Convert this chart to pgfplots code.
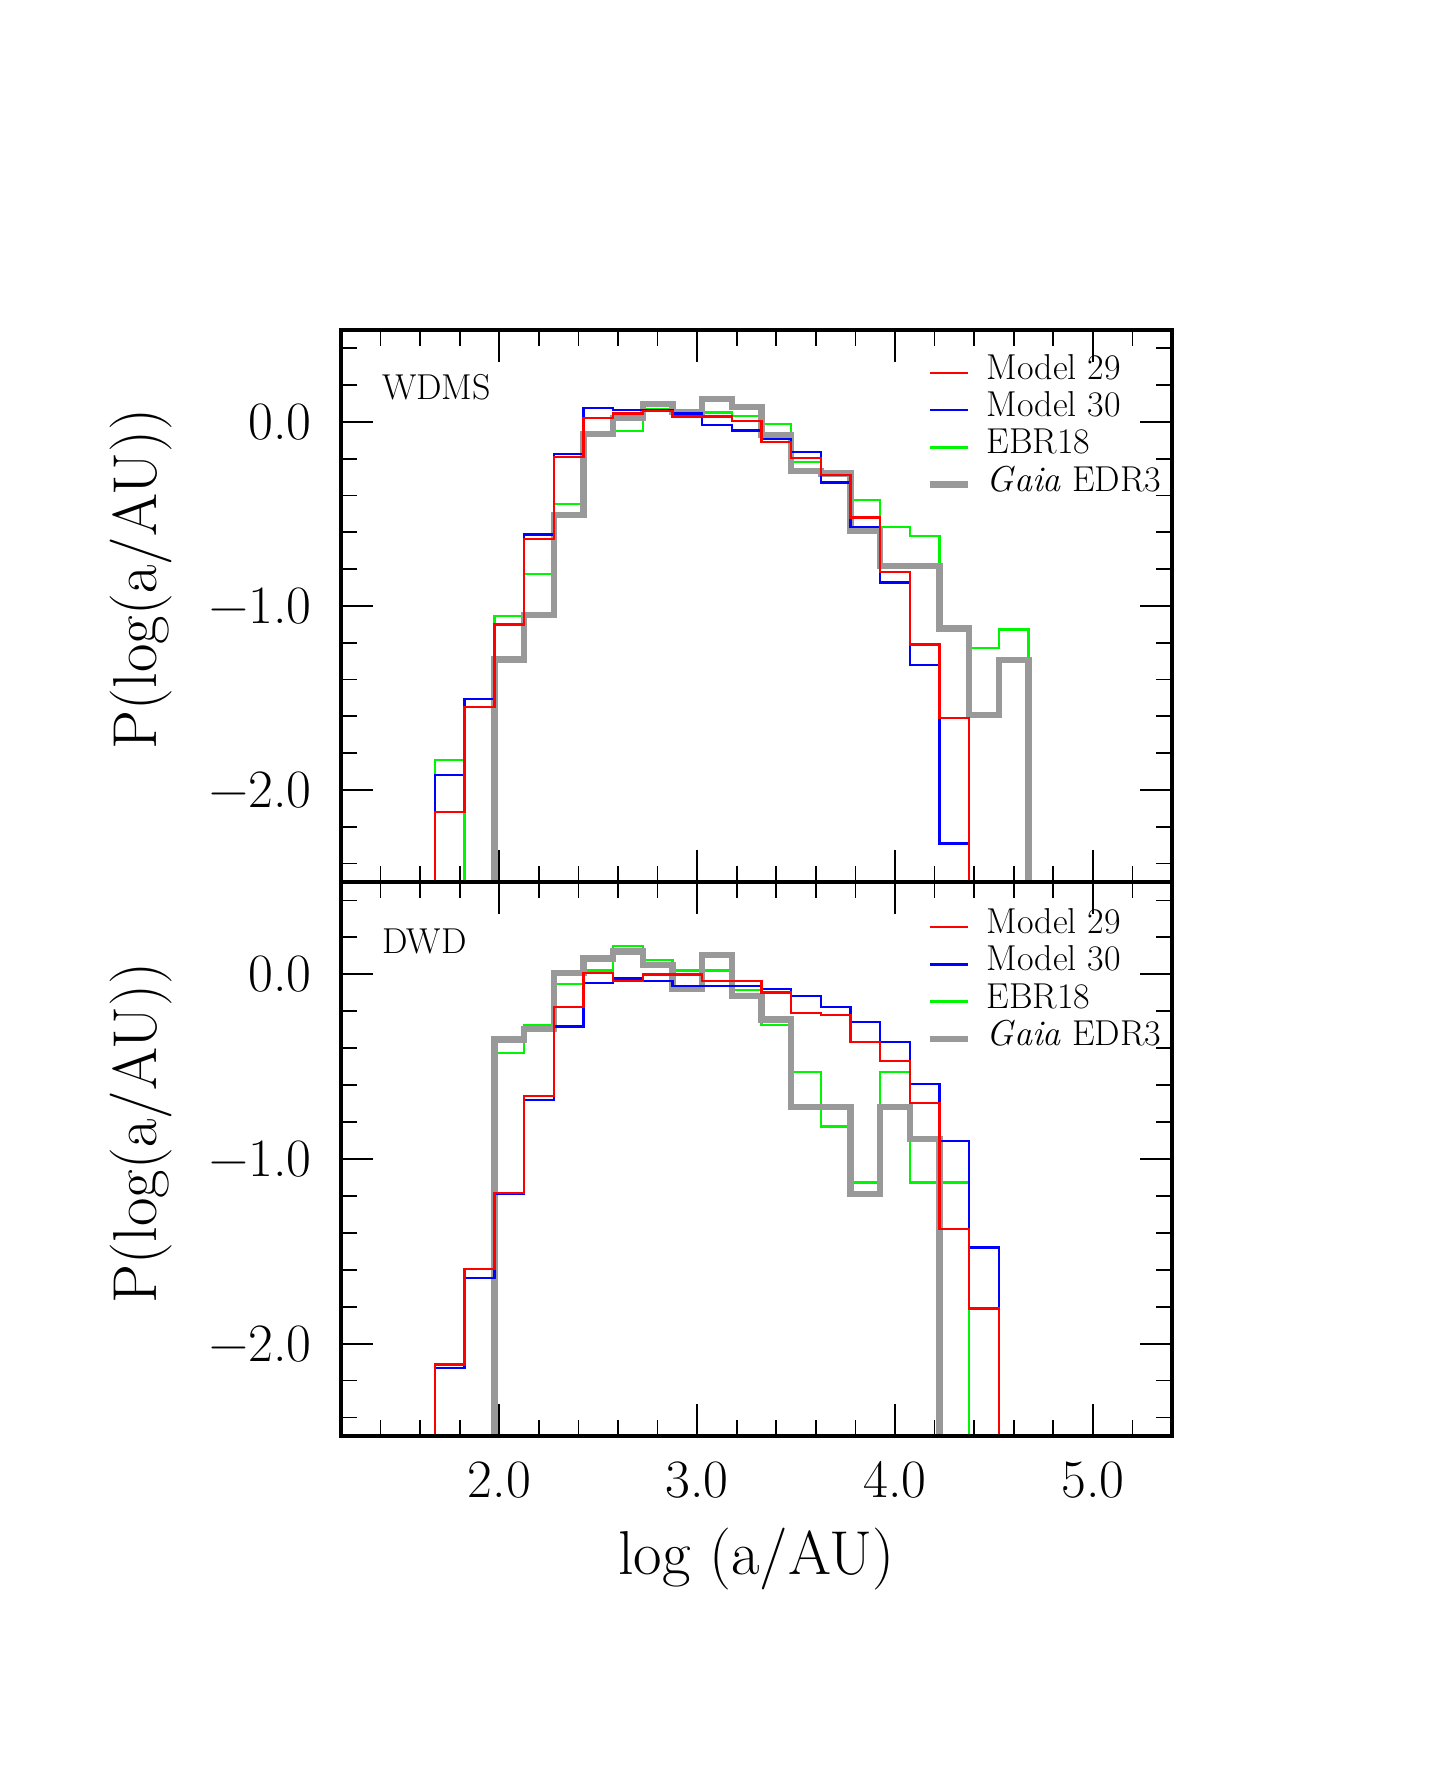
\documentclass[border=0pt]{standalone}
\usepackage{fontspec}
\usepackage{pgfplots}
\pgfplotsset{compat=1.18}
\definecolor{gaiagray}{RGB}{153,153,153}
\definecolor{mgreen}{RGB}{0,245,0}
\definecolor{mred}{RGB}{255,0,0}
\definecolor{mblue}{RGB}{0,0,255}
\pgfplotsset{
  panel/.style={
    scale only axis, width=415.5pt,
    xmin=1.2, xmax=5.4, ymin=-2.5, ymax=0.5,
    xtick={1,2,3,4,5,6}, ytick={-3,-2,-1,0,1},
    yticklabels={,−2.0,−1.0,0.0,},
    minor x tick num=4, minor y tick num=4,
    tick align=inside, major tick length=16pt, minor tick length=8pt,
    axis line style={line width=1.8pt},
    every tick/.style={black, line width=0.9pt},
    axis on top,
    tick label style={font=\fontsize{27}{27}\selectfont},
    yticklabel style={inner sep=0pt, xshift=-14.5pt},
    xticklabel style={inner sep=0pt, yshift=-12.5pt},
    ylabel={P(log(a/AU))},
    ylabel style={font=\fontsize{31}{31}\selectfont, inner sep=0pt, anchor=center},
    legend cell align=left,
    legend image code/.code={\draw[##1] (0pt,0pt) -- (19pt,0pt);},
    legend style={draw=none, fill=none, inner sep=0pt, anchor=north west,
      font=\fontsize{18}{18}\selectfont, column sep=8pt,
      nodes={inner sep=0pt, text height=12.5pt, text depth=6.15pt}},
  },
  hist/.style={const plot, line width=1.2pt, line join=miter, forget plot},
  gaiahist/.style={const plot, line width=3.2pt, line join=miter, forget plot, gaiagray},
}
\begin{document}
\begin{tikzpicture}
\path[use as bounding box] (0pt,0pt) rectangle (717.5pt,885pt);
% ---------------- top panel: WDMS ----------------
\begin{axis}[panel, at={(170.5pt,444pt)}, anchor=south west, height=276pt,
  xticklabels={},
  ylabel style={at={(axis description cs:-0.2407,0.549)}},
  legend style={at={(axis description cs:0.704,0.957)}}]
\addplot[hist, mgreen] coordinates {(1.675,-3) (1.675,-1.838) (1.825,-3) (1.975,-1.055) (2.125,-0.827) (2.275,-0.446) (2.425,-0.07) (2.575,-0.048) (2.725,0.07) (2.875,0.035) (3.025,0.052) (3.175,0.034) (3.325,-0.01) (3.475,-0.216) (3.625,-0.28) (3.775,-0.424) (3.925,-0.57) (4.075,-0.62) (4.225,-1.11) (4.375,-1.227) (4.525,-1.128) (4.675,-3)};
\addplot[gaiahist] coordinates {(1.975,-3) (1.975,-1.29) (2.125,-1.05) (2.275,-0.506) (2.425,-0.066) (2.575,0.023) (2.725,0.098) (2.875,0.053) (3.025,0.125) (3.175,0.082) (3.325,-0.07) (3.475,-0.265) (3.625,-0.28) (3.775,-0.59) (3.925,-0.783) (4.075,-0.783) (4.225,-1.122) (4.375,-1.594) (4.525,-1.294) (4.675,-3)};
\addplot[hist, mblue] coordinates {(1.675,-3) (1.675,-1.92) (1.825,-1.507) (1.975,-1.10) (2.125,-0.611) (2.275,-0.174) (2.425,0.077) (2.575,0.065) (2.725,0.065) (2.875,0.045) (3.025,-0.015) (3.175,-0.047) (3.325,-0.093) (3.475,-0.163) (3.625,-0.33) (3.775,-0.57) (3.925,-0.872) (4.075,-1.322) (4.225,-2.29) (4.375,-3)};
\addplot[hist, mred] coordinates {(1.675,-3) (1.675,-2.12) (1.825,-1.55) (1.975,-1.10) (2.125,-0.637) (2.275,-0.19) (2.425,0.02) (2.575,0.045) (2.725,0.06) (2.875,0.03) (3.025,0.03) (3.175,0.005) (3.325,-0.11) (3.475,-0.195) (3.625,-0.288) (3.775,-0.52) (3.925,-0.814) (4.075,-1.209) (4.225,-1.608) (4.375,-3)};
\addlegendimage{mred, line width=1.2pt}
\addlegendentry{Model 29}
\addlegendimage{mblue, line width=1.2pt}
\addlegendentry{Model 30}
\addlegendimage{mgreen, line width=1.2pt}
\addlegendentry{EBR18}
\addlegendimage{gaiagray, line width=3.2pt}
\addlegendentry{\textit{Gaia} EDR3}
\node[anchor=west, inner sep=0pt, font=\fontsize{18}{18}\selectfont] at (axis description cs:0.049,0.897) {WDMS};
\end{axis}
% ---------------- bottom panel: DWD ----------------
\begin{axis}[panel, at={(170.5pt,167pt)}, anchor=south west, height=277pt,
  xticklabels={,2.0,3.0,4.0,5.0,},
  xlabel={log (a/AU)},
  xlabel style={font=\fontsize{31}{31}\selectfont, inner sep=0pt, anchor=north,
    at={(axis description cs:0.5,-0.166)}},
  ylabel style={at={(axis description cs:-0.2407,0.547)}},
  legend style={at={(axis description cs:0.704,0.953)}}]
\addplot[hist, mgreen] coordinates {(1.975,-3) (1.975,-0.427) (2.125,-0.276) (2.275,-0.051) (2.425,0.021) (2.575,0.152) (2.725,0.079) (2.875,0.021) (3.025,0.021) (3.175,-0.085) (3.325,-0.276) (3.475,-0.528) (3.625,-0.823) (3.775,-1.128) (3.925,-0.528) (4.075,-1.128) (4.225,-1.128) (4.375,-3)};
\addplot[gaiahist] coordinates {(1.975,-3) (1.975,-0.354) (2.125,-0.296) (2.275,0.007) (2.425,0.085) (2.575,0.123) (2.725,0.052) (2.875,-0.08) (3.025,0.104) (3.175,-0.118) (3.325,-0.244) (3.475,-0.717) (3.625,-0.717) (3.775,-1.19) (3.925,-0.717) (4.075,-0.891) (4.225,-3)};
\addplot[hist, mblue] coordinates {(1.675,-3) (1.675,-2.133) (1.825,-1.644) (1.975,-1.19) (2.125,-0.682) (2.275,-0.282) (2.425,-0.047) (2.575,-0.022) (2.725,-0.037) (2.875,-0.064) (3.025,-0.064) (3.175,-0.064) (3.325,-0.08) (3.475,-0.118) (3.625,-0.176) (3.775,-0.259) (3.925,-0.365) (4.075,-0.595) (4.225,-0.904) (4.375,-1.48) (4.525,-3)};
\addplot[hist, mred] coordinates {(1.675,-3) (1.675,-2.112) (1.825,-1.596) (1.975,-1.184) (2.125,-0.659) (2.275,-0.176) (2.425,0.007) (2.575,-0.037) (2.725,-0.002) (2.875,-0.002) (3.025,-0.037) (3.175,-0.037) (3.325,-0.099) (3.475,-0.209) (3.625,-0.221) (3.775,-0.365) (3.925,-0.47) (4.075,-0.698) (4.225,-1.378) (4.375,-1.809) (4.525,-3)};
\addlegendimage{mred, line width=1.2pt}
\addlegendentry{Model 29}
\addlegendimage{mblue, line width=1.2pt}
\addlegendentry{Model 30}
\addlegendimage{mgreen, line width=1.2pt}
\addlegendentry{EBR18}
\addlegendimage{gaiagray, line width=3.2pt}
\addlegendentry{\textit{Gaia} EDR3}
\node[anchor=west, inner sep=0pt, font=\fontsize{18}{18}\selectfont] at (axis description cs:0.049,0.8935) {DWD};
\end{axis}
\end{tikzpicture}
\end{document}
